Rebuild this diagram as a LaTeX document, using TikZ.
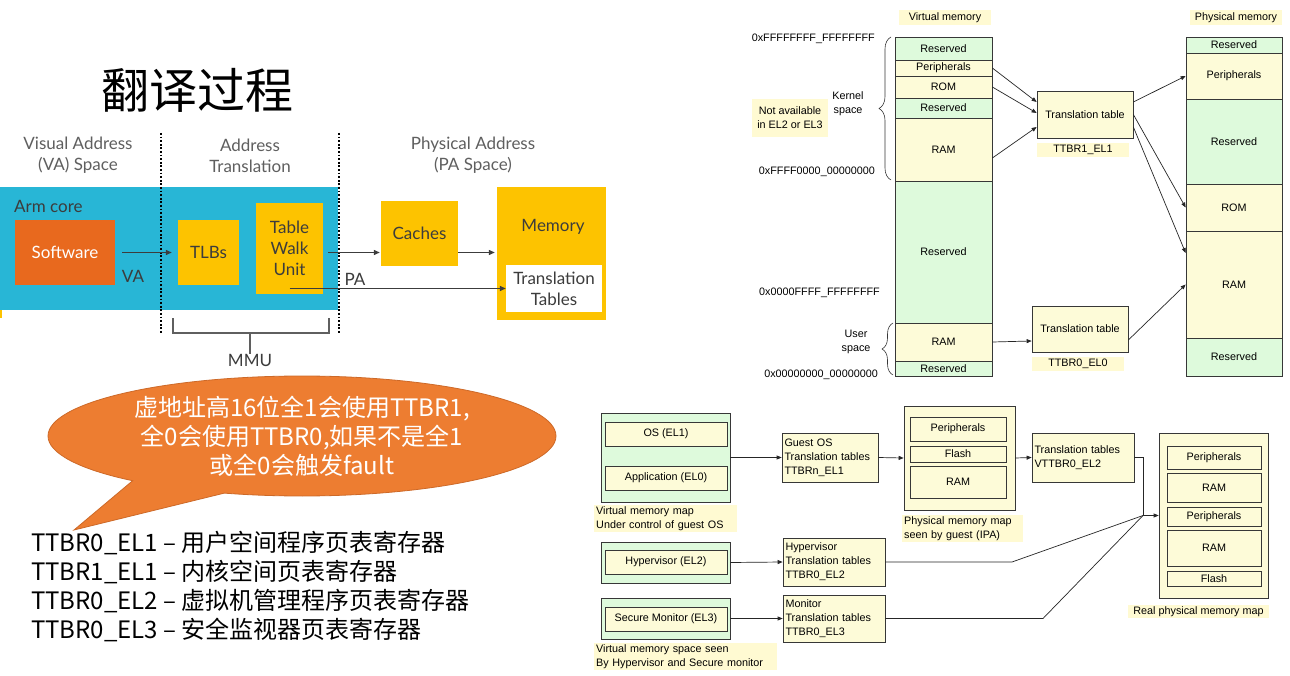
\documentclass[tikz,border=0pt]{standalone}
\usepackage{fontspec}
\setmainfont{Liberation Sans}
\newfontfamily\lato{Lato}
\newfontfamily\cjk{Noto Sans CJK SC}
\usetikzlibrary{positioning,shapes.callouts,arrows.meta,decorations.pathreplacing}
\definecolor{armcyan}{RGB}{40,182,214}
\definecolor{armyellow}{RGB}{253,195,0}
\definecolor{armorange}{RGB}{232,105,30}
\definecolor{armtext}{RGB}{60,60,60}
\definecolor{armhead}{RGB}{95,95,95}
\definecolor{bubbleorange}{RGB}{237,125,49}
\definecolor{bubbleedge}{RGB}{205,105,40}
\definecolor{vmgreen}{RGB}{222,250,220}
\definecolor{vmyellow}{RGB}{253,251,216}
\definecolor{tagyellow}{RGB}{255,250,210}
\definecolor{vmline}{RGB}{55,55,55}
\newcommand\armfont{\lato\fontsize{17}{21}\selectfont}
\newcommand\memfont{\fontsize{10.8}{14}\selectfont}
\newcommand\bigcjk{\cjk\fontsize{24}{29}\selectfont}
\begin{document}
\begin{tikzpicture}[x=1pt,y=-1pt]
\tikzstyle{armbox}=[fill=armyellow, text=armtext, font=\armfont, inner sep=0, align=center]
\tikzstyle{armlabel}=[font=\armfont, text=armtext, inner sep=0]
\tikzstyle{armarrow}=[draw=armtext, line width=1.2, -{Triangle[length=6pt,width=5pt]}]
\tikzstyle{seg}=[draw=vmline, line width=0.7, inner sep=0, font=\memfont, minimum width=97]
\tikzstyle{tag}=[fill=tagyellow, inner sep=1.5, font=\memfont, align=center]
\tikzstyle{tbl}=[draw=vmline, line width=0.7, fill=vmyellow, font=\memfont, align=left, inner xsep=2.5, inner ysep=0]
\tikzstyle{memline}=[draw=black!85, line width=0.7]
\tikzstyle{memarrow}=[memline, -{Triangle[length=5pt,width=4pt]}]
\useasboundingbox (0,0) rectangle (1290,676);
\fill[white] (0,0) rectangle (1290,676);

% title
\node[font=\cjk\fontsize{48}{48}\selectfont] (title) at (197,90) {翻译过程};

% arm core and MMU
\fill[armyellow] (0,187) rectangle (2,318);
\node[fill=armcyan, minimum width=338, minimum height=123, inner sep=0] (core) at (169,248.5) {};
\node[armlabel, anchor=west] (corelabel) at (14,206) {Arm core};
\node[armlabel, text=armhead, align=center] (vahead) at (78,155.5) {Visual Address\\(VA) Space};
\node[armlabel, text=armhead, align=center] (mmuhead) at (250,155.5) {Address\\Translation};
\node[armlabel, text=armhead, align=center] (pahead) at (473,155.5) {Physical Address\\(PA Space)};
\draw[line width=1.8, dash pattern=on 1.8pt off 1.8pt] (161,133) -- (161,333);
\draw[line width=1.8, dash pattern=on 1.8pt off 1.8pt] (339,133) -- (339,333);
\node[armbox, fill=armorange, text=white, minimum width=100, minimum height=65] (software) at (65,252.5) {Software};
\node[armbox, minimum width=61, minimum height=65] (tlb) at (208.5,252.5) {TLBs};
\node[armbox, minimum width=67, minimum height=91] (twu) at (289.5,248.5) {Table\\Walk\\Unit};
\node[armbox, minimum width=77, minimum height=65] (caches) at (419.5,233.5) {Caches};
\node[armbox, minimum width=109, minimum height=133] (memory) at (551.5,253.5) {};
\node[armlabel] (memlabel) at (553,227) {Memory};
\node[armbox, fill=white, minimum width=96, minimum height=47] (tables) at (554,288.5) {Translation\\Tables};
\draw[armarrow, shorten <=7pt, shorten >=6pt] (software.east) -- (tlb.west);
\draw[armarrow, shorten <=5pt, shorten >=1pt] (twu.east |- software.east) -- (caches.west |- software.east);
\draw[armarrow, shorten >=2pt] (caches.east |- software.east) -- (memory.west |- software.east);
\draw[armarrow] (twu.center |- tables.west) -- (tables.west);
\node[armlabel] (va) at (133,276) {VA};
\node[armlabel] (pa) at (355,279) {PA};
\node[armlabel] (mmu) at (250,360) {MMU};
\draw[armhead, line width=1.3] (173,318) |- (329,333) -- (329,318);
\draw[armhead, line width=1.3] (250,333) -- (mmu.north);

% callout and register list
\node[ellipse callout, fill=bubbleorange, draw=bubbleedge, line width=0.8, minimum width=508, minimum height=120, inner sep=0,
  callout absolute pointer={(74,530)}, callout pointer arc=24, text=white, font=\bigcjk, align=center] (bubble) at (302,436)
  {虚地址高16位全1会使用TTBR1,\\全0会使用TTBR0,如果不是全1\\或全0会触发fault};
\foreach \reg [count=\i] in {TTBR0\_EL1 – 用户空间程序页表寄存器, TTBR1\_EL1 – 内核空间页表寄存器,
  TTBR0\_EL2 – 虚拟机管理程序页表寄存器, TTBR0\_EL3 – 安全监视器页表寄存器}
  \node[font=\bigcjk, anchor=west, inner sep=0] (reg\i) at (31,{514+29*\i}) {\reg};

% virtual and physical memory maps
\node[tag, minimum width=92, minimum height=15] (vmtag) at (945,17.5) {Virtual memory};
\node[tag, minimum width=92, minimum height=15] (pmtag) at (1236,17.5) {Physical memory};
\foreach \n/\a/\b/\c/\t in {vres1/37/60/vmgreen/Reserved, vper/60/76/vmyellow/Peripherals, vrom/76/98/vmyellow/ROM,
  vres2/98/118/vmgreen/Reserved, vram1/118/181/vmyellow/RAM, vres3/181/323/vmgreen/Reserved,
  vram2/323/361/vmyellow/RAM, vres4/361/376/vmgreen/Reserved}
  \node[seg, fill=\c, minimum height=\b-\a] (\n) at (943.5,{(\a+\b)/2}) {\t};
\foreach \n/\a/\b/\c/\t in {pres1/37/53/vmgreen/Reserved, pper/53/99/vmyellow/Peripherals, pres2/99/184/vmgreen/Reserved,
  prom/184/231/vmyellow/ROM, pram/231/338/vmyellow/RAM, pres3/338/376/vmgreen/Reserved}
  \node[seg, fill=\c, minimum width=96, minimum height=\b-\a] (\n) at (1234,{(\a+\b)/2}) {\t};
\node[tbl, minimum width=96, minimum height=47] (tt1) at (1085,114.5) {Translation table};
\node[tag, minimum width=92, minimum height=14] (ttbr1) at (1083,150) {TTBR1\_EL1};
\node[tbl, minimum width=96, minimum height=46] (tt0) at (1080,329) {Translation table};
\node[tag, minimum width=92, minimum height=14] (ttbr0) at (1078,364) {TTBR0\_EL0};
\node[tag, minimum width=76, minimum height=38] (notavail) at (790,118) {Not available\\in EL2 or EL3};
\node[font=\memfont, align=center, inner sep=0] (kernel) at (848,103.5) {Kernel\\space};
\node[font=\memfont, align=center, inner sep=0] (user) at (856,342) {User\\space};
\node[font=\memfont, anchor=east, inner sep=0] (hexa) at (875,39) {0xFFFFFFFF\_FFFFFFFF};
\node[font=\memfont, anchor=east, inner sep=0] (hexb) at (875,172) {0xFFFF0000\_00000000};
\node[font=\memfont, anchor=east, inner sep=0] (hexc) at (880,293) {0x0000FFFF\_FFFFFFFF};
\node[font=\memfont, anchor=east, inner sep=0] (hexd) at (878,375) {0x00000000\_00000000};
\draw[vmline, line width=0.6, decorate, decoration={brace, amplitude=12pt}] (891,180) -- (891,37);
\draw[vmline, line width=0.6, decorate, decoration={brace, amplitude=11pt}] (893,375) -- (893,323);
\draw[memarrow] (vper.east) -- ([yshift=12.5pt]tt1.west);
\draw[memarrow] (vrom.east) -- ([yshift=1.5pt]tt1.west);
\draw[memarrow] ([yshift=-8.5pt]vram1.east) -- ([yshift=-12.5pt]tt1.west);
\draw[memarrow] ([yshift=12.5pt]tt1.east) -- (pper.west);
\draw[memarrow] (tt1.east) -- (prom.west);
\draw[memarrow] ([yshift=-12.5pt]tt1.east) -- ([yshift=31.5pt]pram.west);
\draw[memarrow] (vram2.east) -- ([yshift=-12pt]tt0.west);
\draw[memarrow] ([yshift=-11pt]tt0.east) -- (pram.west);

% guest, hypervisor and monitor translation
\node[seg, fill=vmgreen, minimum width=129, minimum height=89] (guestmap) at (665.5,457.5) {};
\node[seg, fill=vmyellow, minimum width=122, minimum height=24] (os) at (666,434) {OS (EL1)};
\node[seg, fill=vmyellow, minimum width=122, minimum height=24] (app) at (666,478) {Application (EL0)};
\node[tag, anchor=north west, align=left, text width=139, inner xsep=2, inner ysep=1.5] (guestlabel) at (594,505) {Virtual memory map\\Under control of guest OS};
\node[tbl, text width=91, minimum height=49] (guesttbl) at (830,457.5) {Guest OS\\Translation tables\\TTBRn\_EL1};
\node[seg, fill=vmyellow, minimum width=111, minimum height=104] (ipa) at (959.5,458) {};
\node[seg, fill=vmyellow, minimum width=96, minimum height=24] (iper) at (958,429) {Peripherals};
\node[seg, fill=vmyellow, minimum width=96, minimum height=16] (iflash) at (958,454) {Flash};
\node[seg, fill=vmyellow, minimum width=96, minimum height=32] (iram) at (958,482) {RAM};
\node[tag, anchor=north west, align=left, text width=117, inner xsep=2, inner ysep=1.5] (ipalabel) at (902,515) {Physical memory map\\seen by guest (IPA)};
\node[tbl, text width=97, minimum height=49] (vttbr) at (1083,457.5) {Translation tables\\VTTBR0\_EL2};
\node[seg, fill=vmyellow, minimum width=109, minimum height=165] (real) at (1213.5,515.5) {};
\foreach \n/\a/\b/\t in {rper1/446/469/Peripherals, rram1/473/502/RAM, rper2/507/526/Peripherals, rram2/530/566/RAM, rflash/571/586/Flash}
  \node[seg, fill=vmyellow, minimum width=94, minimum height=\b-\a] (\n) at (1214,{(\a+\b)/2}) {\t};
\node[tag, minimum width=141, minimum height=13] (reallabel) at (1198.5,611.5) {Real physical memory map};
\node[seg, fill=vmgreen, minimum width=129, minimum height=41] (hypmap) at (665.5,562.5) {};
\node[seg, fill=vmyellow, minimum width=122, minimum height=24] (hyp) at (666,562) {Hypervisor (EL2)};
\node[tbl, text width=97, minimum height=48] (hyptbl) at (834,562) {Hypervisor\\Translation tables\\TTBR0\_EL2};
\node[seg, fill=vmgreen, minimum width=129, minimum height=41] (secmap) at (665.5,618.5) {};
\node[seg, fill=vmyellow, minimum width=122, minimum height=24] (sec) at (666,619) {Secure Monitor (EL3)};
\node[tbl, text width=97, minimum height=47] (montbl) at (834,618.5) {Monitor\\Translation tables\\TTBR0\_EL3};
\node[tag, anchor=north west, align=left, text width=179, inner xsep=2, inner ysep=1.5] (hyplabel) at (594,643) {Virtual memory space seen\\By Hypervisor and Secure monitor};
\coordinate (join) at (1143,515.5);
\coordinate (hypbend) at (1012,562);
\coordinate (monbend) at (1043,618.5);
\draw[memarrow] (guestmap.east) -- (guesttbl.west);
\draw[memarrow] (guesttbl.east) -- (ipa.west);
\draw[memarrow] (ipa.east) -- (vttbr.west);
\draw[memline] (vttbr.east) -| (join);
\draw[memarrow] (join) -- (real.west);
\draw[memarrow] (hypmap.east) -- (hyptbl.west);
\draw[memline] (hyptbl.east) -- (hypbend) -- (join);
\draw[memarrow] (secmap.east) -- (montbl.west);
\draw[memline] (montbl.east) -- (monbend) -- (join);
\end{tikzpicture}
\end{document}
